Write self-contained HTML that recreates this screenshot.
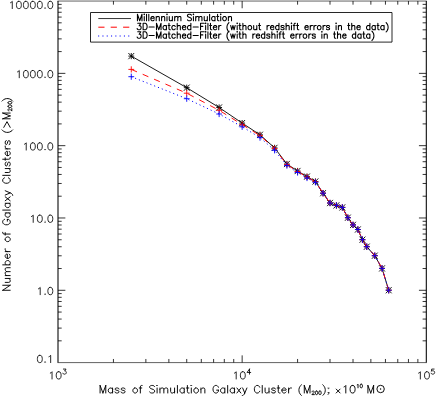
<!DOCTYPE html>
<html><head><meta charset="utf-8"><title>Number of Galaxy Clusters vs Mass</title>
<style>html,body{margin:0;padding:0;background:#fff;font-family:"Liberation Sans",sans-serif}svg{display:block}</style></head>
<body><svg width="436" height="396" viewBox="0 0 436 396">
<desc>Log-log plot: Number of Galaxy Clusters (&gt;M200) versus Mass of Simulation Galaxy Cluster (M200); x10^10 solar masses. Series: Millennium Simulation (black solid, asterisks); 3D-Matched-Filter without redshift errors in the data (red dashed, plus signs); 3D-Matched-Filter with redshift errors in the data (blue dotted, plus signs).</desc>
<rect width="436" height="396" fill="#fff"/>
<path d="M57.5 1.05H426.8M57.5 362.6H426.8" fill="none" stroke="#000" stroke-width="0.62"/>
<path d="M58 1.05V362.6M426.3 1.05V362.6" fill="none" stroke="#000" stroke-width="1.05"/>
<path d="M113.43 362.6v-3.62M113.43 1.05v3.62M145.86 362.6v-3.62M145.86 1.05v3.62M168.87 362.6v-3.62M168.87 1.05v3.62M186.72 362.6v-3.62M186.72 1.05v3.62M201.3 362.6v-3.62M201.3 1.05v3.62M213.62 362.6v-3.62M213.62 1.05v3.62M224.3 362.6v-3.62M224.3 1.05v3.62M233.72 362.6v-3.62M233.72 1.05v3.62M242.15 362.6v-7.23M242.15 1.05v7.23M297.58 362.6v-3.62M297.58 1.05v3.62M330.01 362.6v-3.62M330.01 1.05v3.62M353.02 362.6v-3.62M353.02 1.05v3.62M370.87 362.6v-3.62M370.87 1.05v3.62M385.45 362.6v-3.62M385.45 1.05v3.62M397.77 362.6v-3.62M397.77 1.05v3.62M408.45 362.6v-3.62M408.45 1.05v3.62M417.87 362.6v-3.62M417.87 1.05v3.62M58 340.83h3.68M426.3 340.83h-3.68M58 328.1h3.68M426.3 328.1h-3.68M58 319.07h3.68M426.3 319.07h-3.68M58 312.06h3.68M426.3 312.06h-3.68M58 306.33h3.68M426.3 306.33h-3.68M58 301.49h3.68M426.3 301.49h-3.68M58 297.3h3.68M426.3 297.3h-3.68M58 293.6h3.68M426.3 293.6h-3.68M58 290.29h7.37M426.3 290.29h-7.37M58 268.52h3.68M426.3 268.52h-3.68M58 255.79h3.68M426.3 255.79h-3.68M58 246.76h3.68M426.3 246.76h-3.68M58 239.75h3.68M426.3 239.75h-3.68M58 234.02h3.68M426.3 234.02h-3.68M58 229.18h3.68M426.3 229.18h-3.68M58 224.99h3.68M426.3 224.99h-3.68M58 221.29h3.68M426.3 221.29h-3.68M58 217.98h7.37M426.3 217.98h-7.37M58 196.21h3.68M426.3 196.21h-3.68M58 183.48h3.68M426.3 183.48h-3.68M58 174.45h3.68M426.3 174.45h-3.68M58 167.44h3.68M426.3 167.44h-3.68M58 161.71h3.68M426.3 161.71h-3.68M58 156.87h3.68M426.3 156.87h-3.68M58 152.68h3.68M426.3 152.68h-3.68M58 148.98h3.68M426.3 148.98h-3.68M58 145.67h7.37M426.3 145.67h-7.37M58 123.9h3.68M426.3 123.9h-3.68M58 111.17h3.68M426.3 111.17h-3.68M58 102.14h3.68M426.3 102.14h-3.68M58 95.13h3.68M426.3 95.13h-3.68M58 89.4h3.68M426.3 89.4h-3.68M58 84.56h3.68M426.3 84.56h-3.68M58 80.37h3.68M426.3 80.37h-3.68M58 76.67h3.68M426.3 76.67h-3.68M58 73.36h7.37M426.3 73.36h-7.37M58 51.59h3.68M426.3 51.59h-3.68M58 38.86h3.68M426.3 38.86h-3.68M58 29.83h3.68M426.3 29.83h-3.68M58 22.82h3.68M426.3 22.82h-3.68M58 17.09h3.68M426.3 17.09h-3.68M58 12.25h3.68M426.3 12.25h-3.68M58 8.06h3.68M426.3 8.06h-3.68M58 4.36h3.68M426.3 4.36h-3.68" fill="none" stroke="#000" stroke-width="0.8"/>
<path role="img" aria-label="10000.0" d="M10.52 2.72L11.22 2.37L12.27 1.33L12.27 8.6M18.55 1.33L17.5 1.68L16.81 2.72L16.46 4.45L16.46 5.49L16.81 7.22L17.5 8.25L18.55 8.6L19.25 8.6L20.3 8.25L20.99 7.22L21.34 5.49L21.34 4.45L20.99 2.72L20.3 1.68L19.25 1.33L18.55 1.33M25.53 1.33L24.48 1.68L23.79 2.72L23.44 4.45L23.44 5.49L23.79 7.22L24.48 8.25L25.53 8.6L26.23 8.6L27.28 8.25L27.97 7.22L28.32 5.49L28.32 4.45L27.97 2.72L27.28 1.68L26.23 1.33L25.53 1.33M32.51 1.33L31.46 1.68L30.77 2.72L30.42 4.45L30.42 5.49L30.77 7.22L31.46 8.25L32.51 8.6L33.21 8.6L34.26 8.25L34.95 7.22L35.3 5.49L35.3 4.45L34.95 2.72L34.26 1.68L33.21 1.33L32.51 1.33M39.49 1.33L38.44 1.68L37.75 2.72L37.4 4.45L37.4 5.49L37.75 7.22L38.44 8.25L39.49 8.6L40.19 8.6L41.24 8.25L41.93 7.22L42.28 5.49L42.28 4.45L41.93 2.72L41.24 1.68L40.19 1.33L39.49 1.33M45.07 7.91L44.73 8.25L45.07 8.6L45.42 8.25L45.07 7.91M49.96 1.33L48.91 1.68L48.22 2.72L47.87 4.45L47.87 5.49L48.22 7.22L48.91 8.25L49.96 8.6L50.66 8.6L51.71 8.25L52.4 7.22L52.75 5.49L52.75 4.45L52.4 2.72L51.71 1.68L50.66 1.33L49.96 1.33" fill="none" stroke="#000" stroke-width="0.85" stroke-linecap="round" stroke-linejoin="round"><title>10000.0</title></path>
<path role="img" aria-label="1000.0" d="M17.5 71.88L18.2 71.53L19.25 70.49L19.25 77.76M25.53 70.49L24.48 70.84L23.79 71.88L23.44 73.61L23.44 74.65L23.79 76.38L24.48 77.41L25.53 77.76L26.23 77.76L27.28 77.41L27.97 76.38L28.32 74.65L28.32 73.61L27.97 71.88L27.28 70.84L26.23 70.49L25.53 70.49M32.51 70.49L31.46 70.84L30.77 71.88L30.42 73.61L30.42 74.65L30.77 76.38L31.46 77.41L32.51 77.76L33.21 77.76L34.26 77.41L34.95 76.38L35.3 74.65L35.3 73.61L34.95 71.88L34.26 70.84L33.21 70.49L32.51 70.49M39.49 70.49L38.44 70.84L37.75 71.88L37.4 73.61L37.4 74.65L37.75 76.38L38.44 77.41L39.49 77.76L40.19 77.76L41.24 77.41L41.93 76.38L42.28 74.65L42.28 73.61L41.93 71.88L41.24 70.84L40.19 70.49L39.49 70.49M45.07 77.07L44.73 77.41L45.07 77.76L45.42 77.41L45.07 77.07M49.96 70.49L48.91 70.84L48.22 71.88L47.87 73.61L47.87 74.65L48.22 76.38L48.91 77.41L49.96 77.76L50.66 77.76L51.71 77.41L52.4 76.38L52.75 74.65L52.75 73.61L52.4 71.88L51.71 70.84L50.66 70.49L49.96 70.49" fill="none" stroke="#000" stroke-width="0.85" stroke-linecap="round" stroke-linejoin="round"><title>1000.0</title></path>
<path role="img" aria-label="100.0" d="M24.48 144.19L25.18 143.84L26.23 142.8L26.23 150.07M32.51 142.8L31.46 143.15L30.77 144.19L30.42 145.92L30.42 146.96L30.77 148.69L31.46 149.72L32.51 150.07L33.21 150.07L34.26 149.72L34.95 148.69L35.3 146.96L35.3 145.92L34.95 144.19L34.26 143.15L33.21 142.8L32.51 142.8M39.49 142.8L38.44 143.15L37.75 144.19L37.4 145.92L37.4 146.96L37.75 148.69L38.44 149.72L39.49 150.07L40.19 150.07L41.24 149.72L41.93 148.69L42.28 146.96L42.28 145.92L41.93 144.19L41.24 143.15L40.19 142.8L39.49 142.8M45.07 149.38L44.73 149.72L45.07 150.07L45.42 149.72L45.07 149.38M49.96 142.8L48.91 143.15L48.22 144.19L47.87 145.92L47.87 146.96L48.22 148.69L48.91 149.72L49.96 150.07L50.66 150.07L51.71 149.72L52.4 148.69L52.75 146.96L52.75 145.92L52.4 144.19L51.71 143.15L50.66 142.8L49.96 142.8" fill="none" stroke="#000" stroke-width="0.85" stroke-linecap="round" stroke-linejoin="round"><title>100.0</title></path>
<path role="img" aria-label="10.0" d="M31.46 216.5L32.16 216.15L33.21 215.11L33.21 222.38M39.49 215.11L38.44 215.46L37.75 216.5L37.4 218.23L37.4 219.27L37.75 221L38.44 222.03L39.49 222.38L40.19 222.38L41.24 222.03L41.93 221L42.28 219.27L42.28 218.23L41.93 216.5L41.24 215.46L40.19 215.11L39.49 215.11M45.07 221.69L44.73 222.03L45.07 222.38L45.42 222.03L45.07 221.69M49.96 215.11L48.91 215.46L48.22 216.5L47.87 218.23L47.87 219.27L48.22 221L48.91 222.03L49.96 222.38L50.66 222.38L51.71 222.03L52.4 221L52.75 219.27L52.75 218.23L52.4 216.5L51.71 215.46L50.66 215.11L49.96 215.11" fill="none" stroke="#000" stroke-width="0.85" stroke-linecap="round" stroke-linejoin="round"><title>10.0</title></path>
<path role="img" aria-label="1.0" d="M38.44 288.81L39.14 288.46L40.19 287.42L40.19 294.69M45.07 294L44.73 294.34L45.07 294.69L45.42 294.34L45.07 294M49.96 287.42L48.91 287.77L48.22 288.81L47.87 290.54L47.87 291.58L48.22 293.31L48.91 294.34L49.96 294.69L50.66 294.69L51.71 294.34L52.4 293.31L52.75 291.58L52.75 290.54L52.4 288.81L51.71 287.77L50.66 287.42L49.96 287.42" fill="none" stroke="#000" stroke-width="0.85" stroke-linecap="round" stroke-linejoin="round"><title>1.0</title></path>
<path role="img" aria-label="0.1" d="M39.49 355.33L38.44 355.68L37.75 356.72L37.4 358.45L37.4 359.49L37.75 361.22L38.44 362.25L39.49 362.6L40.19 362.6L41.24 362.25L41.93 361.22L42.28 359.49L42.28 358.45L41.93 356.72L41.24 355.68L40.19 355.33L39.49 355.33M45.07 361.91L44.73 362.25L45.07 362.6L45.42 362.25L45.07 361.91M48.91 356.72L49.61 356.37L50.66 355.33L50.66 362.6" fill="none" stroke="#000" stroke-width="0.85" stroke-linecap="round" stroke-linejoin="round"><title>0.1</title></path>
<path role="img" aria-label="10^3" d="M50.29 373.12L50.99 372.77L52.04 371.73L52.04 379M58.32 371.73L57.27 372.08L56.58 373.12L56.23 374.85L56.23 375.89L56.58 377.62L57.27 378.65L58.32 379L59.02 379L60.07 378.65L60.76 377.62L61.11 375.89L61.11 374.85L60.76 373.12L60.07 372.08L59.02 371.73L58.32 371.73M63.38 369.07L66.07 369.07L64.6 371.01L65.34 371.01L65.82 371.25L66.07 371.49L66.31 372.22L66.31 372.7L66.07 373.43L65.58 373.91L64.85 374.16L64.11 374.16L63.38 373.91L63.14 373.67L62.89 373.19" fill="none" stroke="#000" stroke-width="0.85" stroke-linecap="round" stroke-linejoin="round"><title>10^3</title></path>
<path role="img" aria-label="10^4" d="M234.44 373.12L235.14 372.77L236.19 371.73L236.19 379M242.47 371.73L241.42 372.08L240.73 373.12L240.38 374.85L240.38 375.89L240.73 377.62L241.42 378.65L242.47 379L243.17 379L244.22 378.65L244.91 377.62L245.26 375.89L245.26 374.85L244.91 373.12L244.22 372.08L243.17 371.73L242.47 371.73M249.49 369.07L247.04 372.46L250.71 372.46M249.49 369.07L249.49 374.16" fill="none" stroke="#000" stroke-width="0.85" stroke-linecap="round" stroke-linejoin="round"><title>10^4</title></path>
<path role="img" aria-label="10^5" d="M418.59 373.12L419.29 372.77L420.34 371.73L420.34 379M426.62 371.73L425.57 372.08L424.88 373.12L424.53 374.85L424.53 375.89L424.88 377.62L425.57 378.65L426.62 379L427.32 379L428.37 378.65L429.06 377.62L429.41 375.89L429.41 374.85L429.06 373.12L428.37 372.08L427.32 371.73L426.62 371.73M434.12 369.07L431.68 369.07L431.44 371.25L431.68 371.01L432.41 370.77L433.15 370.77L433.88 371.01L434.37 371.49L434.61 372.22L434.61 372.7L434.37 373.43L433.88 373.91L433.15 374.16L432.41 374.16L431.68 373.91L431.44 373.67L431.19 373.19" fill="none" stroke="#000" stroke-width="0.85" stroke-linecap="round" stroke-linejoin="round"><title>10^5</title></path>
<path role="img" aria-label="Mass of Simulation Galaxy Cluster (M200); x10^10 M⊙" d="M100.08 385.48L100.08 393M100.08 385.48L102.93 393M105.78 385.48L102.93 393M105.78 385.48L105.78 393M112.55 387.99L112.55 393M112.55 389.06L111.84 388.35L111.12 387.99L110.05 387.99L109.34 388.35L108.63 389.06L108.27 390.14L108.27 390.85L108.63 391.93L109.34 392.64L110.05 393L111.12 393L111.84 392.64L112.55 391.93M118.96 389.06L118.61 388.35L117.54 387.99L116.47 387.99L115.4 388.35L115.04 389.06L115.4 389.78L116.11 390.14L117.9 390.49L118.61 390.85L118.96 391.57L118.96 391.93L118.61 392.64L117.54 393L116.47 393L115.4 392.64L115.04 391.93M125.02 389.06L124.67 388.35L123.6 387.99L122.53 387.99L121.46 388.35L121.1 389.06L121.46 389.78L122.17 390.14L123.95 390.49L124.67 390.85L125.02 391.57L125.02 391.93L124.67 392.64L123.6 393L122.53 393L121.46 392.64L121.1 391.93M134.65 387.99L133.93 388.35L133.22 389.06L132.86 390.14L132.86 390.85L133.22 391.93L133.93 392.64L134.65 393L135.72 393L136.43 392.64L137.14 391.93L137.5 390.85L137.5 390.14L137.14 389.06L136.43 388.35L135.72 387.99L134.65 387.99M142.13 385.48L141.42 385.48L140.71 385.84L140.35 386.91L140.35 393M139.28 387.99L141.77 387.99M154.6 386.56L153.89 385.84L152.82 385.48L151.4 385.48L150.33 385.84L149.62 386.56L149.62 387.27L149.97 387.99L150.33 388.35L151.04 388.7L153.18 389.42L153.89 389.78L154.25 390.14L154.6 390.85L154.6 391.93L153.89 392.64L152.82 393L151.4 393L150.33 392.64L149.62 391.93M156.74 385.48L157.1 385.84L157.46 385.48L157.1 385.12L156.74 385.48M157.1 387.99L157.1 393M159.95 387.99L159.95 393M159.95 389.42L161.02 388.35L161.73 387.99L162.8 387.99L163.51 388.35L163.87 389.42L163.87 393M163.87 389.42L164.94 388.35L165.65 387.99L166.72 387.99L167.44 388.35L167.79 389.42L167.79 393M170.64 387.99L170.64 391.57L171 392.64L171.71 393L172.78 393L173.49 392.64L174.56 391.57M174.56 387.99L174.56 393M177.41 385.48L177.41 393M184.19 387.99L184.19 393M184.19 389.06L183.47 388.35L182.76 387.99L181.69 387.99L180.98 388.35L180.27 389.06L179.91 390.14L179.91 390.85L180.27 391.93L180.98 392.64L181.69 393L182.76 393L183.47 392.64L184.19 391.93M187.39 385.48L187.39 391.57L187.75 392.64L188.46 393L189.18 393M186.32 387.99L188.82 387.99M190.96 385.48L191.31 385.84L191.67 385.48L191.31 385.12L190.96 385.48M191.31 387.99L191.31 393M195.59 387.99L194.88 388.35L194.17 389.06L193.81 390.14L193.81 390.85L194.17 391.93L194.88 392.64L195.59 393L196.66 393L197.37 392.64L198.09 391.93L198.44 390.85L198.44 390.14L198.09 389.06L197.37 388.35L196.66 387.99L195.59 387.99M200.94 387.99L200.94 393M200.94 389.42L202.01 388.35L202.72 387.99L203.79 387.99L204.5 388.35L204.86 389.42L204.86 393M218.4 387.27L218.04 386.56L217.33 385.84L216.62 385.48L215.19 385.48L214.48 385.84L213.77 386.56L213.41 387.27L213.05 388.35L213.05 390.14L213.41 391.21L213.77 391.93L214.48 392.64L215.19 393L216.62 393L217.33 392.64L218.04 391.93L218.4 391.21L218.4 390.14M216.62 390.14L218.4 390.14M224.82 387.99L224.82 393M224.82 389.06L224.1 388.35L223.39 387.99L222.32 387.99L221.61 388.35L220.9 389.06L220.54 390.14L220.54 390.85L220.9 391.93L221.61 392.64L222.32 393L223.39 393L224.1 392.64L224.82 391.93M227.67 385.48L227.67 393M234.44 387.99L234.44 393M234.44 389.06L233.73 388.35L233.01 387.99L231.94 387.99L231.23 388.35L230.52 389.06L230.16 390.14L230.16 390.85L230.52 391.93L231.23 392.64L231.94 393L233.01 393L233.73 392.64L234.44 391.93M236.93 387.99L240.85 393M240.85 387.99L236.93 393M242.64 387.99L244.77 393M246.91 387.99L244.77 393L244.06 394.43L243.35 395.15L242.64 395.51L242.28 395.51M259.74 387.27L259.39 386.56L258.67 385.84L257.96 385.48L256.54 385.48L255.82 385.84L255.11 386.56L254.75 387.27L254.4 388.35L254.4 390.14L254.75 391.21L255.11 391.93L255.82 392.64L256.54 393L257.96 393L258.67 392.64L259.39 391.93L259.74 391.21M262.24 385.48L262.24 393M265.09 387.99L265.09 391.57L265.45 392.64L266.16 393L267.23 393L267.94 392.64L269.01 391.57M269.01 387.99L269.01 393M275.42 389.06L275.07 388.35L274 387.99L272.93 387.99L271.86 388.35L271.5 389.06L271.86 389.78L272.57 390.14L274.36 390.49L275.07 390.85L275.42 391.57L275.42 391.93L275.07 392.64L274 393L272.93 393L271.86 392.64L271.5 391.93M278.28 385.48L278.28 391.57L278.63 392.64L279.34 393L280.06 393M277.21 387.99L279.7 387.99M281.84 390.14L286.12 390.14L286.12 389.42L285.76 388.7L285.4 388.35L284.69 387.99L283.62 387.99L282.91 388.35L282.2 389.06L281.84 390.14L281.84 390.85L282.2 391.93L282.91 392.64L283.62 393L284.69 393L285.4 392.64L286.12 391.93M288.61 387.99L288.61 393M288.61 390.14L288.97 389.06L289.68 388.35L290.39 387.99L291.46 387.99M301.44 384.77L300.73 385.44L300.02 386.44L299.3 387.79L298.95 389.46L298.95 390.81L299.3 392.49L300.02 393.83L300.73 394.83L301.44 395.51M304.29 385.48L304.29 393M304.29 385.48L307.14 393M310 385.48L307.14 393M310 385.48L310 393M312.11 391.86L312.11 391.69L312.28 391.35L312.45 391.17L312.79 391L313.47 391L313.82 391.17L313.99 391.35L314.16 391.69L314.16 392.03L313.99 392.38L313.64 392.89L311.93 394.61L314.33 394.61M316.38 391L315.87 391.17L315.53 391.69L315.36 392.55L315.36 393.06L315.53 393.92L315.87 394.44L316.38 394.61L316.72 394.61L317.24 394.44L317.58 393.92L317.75 393.06L317.75 392.55L317.58 391.69L317.24 391.17L316.72 391L316.38 391M319.8 391L319.29 391.17L318.95 391.69L318.78 392.55L318.78 393.06L318.95 393.92L319.29 394.44L319.8 394.61L320.15 394.61L320.66 394.44L321 393.92L321.17 393.06L321.17 392.55L321 391.69L320.66 391.17L320.15 391L319.8 391M322.75 384.77L323.47 385.44L324.18 386.44L324.89 387.79L325.25 389.46L325.25 390.81L324.89 392.49L324.18 393.83L323.47 394.83L322.75 395.51M328.46 387.99L328.1 388.35L328.46 388.7L328.81 388.35L328.46 387.99M328.81 392.64L328.46 393L328.1 392.64L328.46 392.28L328.81 392.64L328.81 393.36L328.46 394.07L328.1 394.43M336.19 389.06L340.11 393M336.19 393L340.11 389.06M344.03 386.91L344.74 386.56L345.81 385.48L345.81 393M352.23 385.48L351.16 385.84L350.45 386.91L350.09 388.7L350.09 389.78L350.45 391.57L351.16 392.64L352.23 393L352.94 393L354.01 392.64L354.72 391.57L355.08 389.78L355.08 388.7L354.72 386.91L354.01 385.84L352.94 385.48L352.23 385.48M357.18 384.89L357.52 384.72L358.03 384.2L358.03 387.81M361.11 384.2L360.6 384.37L360.25 384.89L360.08 385.75L360.08 386.26L360.25 387.12L360.6 387.64L361.11 387.81L361.45 387.81L361.97 387.64L362.31 387.12L362.48 386.26L362.48 385.75L362.31 384.89L361.97 384.37L361.45 384.2L361.11 384.2M367.91 385.48L367.91 393M367.91 385.48L370.76 393M373.61 385.48L370.76 393M373.61 385.48L373.61 393" fill="none" stroke="#000" stroke-width="0.95" stroke-linecap="round" stroke-linejoin="round"><title>Mass of Simulation Galaxy Cluster (M200); x10^10 M⊙</title></path>
<path role="img" aria-label="Number of Galaxy Clusters (&gt;M200)" d="M2.72 290.27L10.2 290.27M2.72 290.27L10.2 285.26M2.72 285.26L10.2 285.26M5.21 282.39L8.77 282.39L9.84 282.03L10.2 281.32L10.2 280.24L9.84 279.53L8.77 278.45M5.21 278.45L10.2 278.45M5.21 275.59L10.2 275.59M6.64 275.59L5.57 274.52L5.21 273.8L5.21 272.73L5.57 272.01L6.64 271.65L10.2 271.65M6.64 271.65L5.57 270.58L5.21 269.86L5.21 268.79L5.57 268.07L6.64 267.71L10.2 267.71M2.72 264.85L10.2 264.85M6.28 264.85L5.57 264.13L5.21 263.42L5.21 262.34L5.57 261.63L6.28 260.91L7.35 260.55L8.06 260.55L9.13 260.91L9.84 261.63L10.2 262.34L10.2 263.42L9.84 264.13L9.13 264.85M7.35 258.41L7.35 254.11L6.64 254.11L5.92 254.47L5.57 254.83L5.21 255.54L5.21 256.62L5.57 257.33L6.28 258.05L7.35 258.41L8.06 258.41L9.13 258.05L9.84 257.33L10.2 256.62L10.2 255.54L9.84 254.83L9.13 254.11M5.21 251.6L10.2 251.6M7.35 251.6L6.28 251.25L5.57 250.53L5.21 249.81L5.21 248.74M5.21 239.79L5.57 240.51L6.28 241.22L7.35 241.58L8.06 241.58L9.13 241.22L9.84 240.51L10.2 239.79L10.2 238.72L9.84 238L9.13 237.28L8.06 236.93L7.35 236.93L6.28 237.28L5.57 238L5.21 238.72L5.21 239.79M2.72 232.27L2.72 232.99L3.07 233.7L4.14 234.06L10.2 234.06M5.21 235.14L5.21 232.63M4.5 219.38L3.78 219.74L3.07 220.46L2.72 221.17L2.72 222.61L3.07 223.32L3.78 224.04L4.5 224.4L5.57 224.75L7.35 224.75L8.42 224.4L9.13 224.04L9.84 223.32L10.2 222.61L10.2 221.17L9.84 220.46L9.13 219.74L8.42 219.38L7.35 219.38M7.35 221.17L7.35 219.38M5.21 212.94L10.2 212.94M6.28 212.94L5.57 213.66L5.21 214.37L5.21 215.45L5.57 216.16L6.28 216.88L7.35 217.24L8.06 217.24L9.13 216.88L9.84 216.16L10.2 215.45L10.2 214.37L9.84 213.66L9.13 212.94M2.72 210.08L10.2 210.08M5.21 203.27L10.2 203.27M6.28 203.27L5.57 203.99L5.21 204.71L5.21 205.78L5.57 206.5L6.28 207.21L7.35 207.57L8.06 207.57L9.13 207.21L9.84 206.5L10.2 205.78L10.2 204.71L9.84 203.99L9.13 203.27M5.21 200.77L10.2 196.83M5.21 196.83L10.2 200.77M5.21 195.04L10.2 192.89M5.21 190.74L10.2 192.89L11.63 193.61L12.34 194.32L12.69 195.04L12.69 195.4M4.5 177.86L3.78 178.21L3.07 178.93L2.72 179.65L2.72 181.08L3.07 181.79L3.78 182.51L4.5 182.87L5.57 183.23L7.35 183.23L8.42 182.87L9.13 182.51L9.84 181.79L10.2 181.08L10.2 179.65L9.84 178.93L9.13 178.21L8.42 177.86M2.72 175.35L10.2 175.35M5.21 172.49L8.77 172.49L9.84 172.13L10.2 171.41L10.2 170.34L9.84 169.62L8.77 168.55M5.21 168.55L10.2 168.55M6.28 162.1L5.57 162.46L5.21 163.54L5.21 164.61L5.57 165.68L6.28 166.04L6.99 165.68L7.35 164.97L7.71 163.18L8.06 162.46L8.77 162.1L9.13 162.1L9.84 162.46L10.2 163.54L10.2 164.61L9.84 165.68L9.13 166.04M2.72 159.24L8.77 159.24L9.84 158.88L10.2 158.17L10.2 157.45M5.21 160.31L5.21 157.81M7.35 155.66L7.35 151.36L6.64 151.36L5.92 151.72L5.57 152.08L5.21 152.8L5.21 153.87L5.57 154.59L6.28 155.3L7.35 155.66L8.06 155.66L9.13 155.3L9.84 154.59L10.2 153.87L10.2 152.8L9.84 152.08L9.13 151.36M5.21 148.86L10.2 148.86M7.35 148.86L6.28 148.5L5.57 147.78L5.21 147.07L5.21 145.99M6.28 140.62L5.57 140.98L5.21 142.06L5.21 143.13L5.57 144.2L6.28 144.56L6.99 144.2L7.35 143.49L7.71 141.7L8.06 140.98L8.77 140.62L9.13 140.62L9.84 140.98L10.2 142.06L10.2 143.13L9.84 144.2L9.13 144.56M2 129.88L2.67 130.6L3.67 131.32L5.01 132.03L6.68 132.39L8.02 132.39L9.69 132.03L11.02 131.32L12.03 130.6L12.69 129.88M3.78 127.38L6.99 121.65L10.2 127.38M2.72 118.79L10.2 118.79M2.72 118.79L10.2 115.92M2.72 113.06L10.2 115.92M2.72 113.06L10.2 113.06M8.95 110.91L8.77 110.91L8.42 110.73L8.24 110.55L8.06 110.19L8.06 109.48L8.24 109.12L8.42 108.94L8.77 108.76L9.13 108.76L9.49 108.94L10.02 109.3L11.8 111.09L11.8 108.58M8.06 106.44L8.24 106.97L8.77 107.33L9.67 107.51L10.2 107.51L11.09 107.33L11.63 106.97L11.8 106.44L11.8 106.08L11.63 105.54L11.09 105.18L10.2 105L9.67 105L8.77 105.18L8.24 105.54L8.06 106.08L8.06 106.44M8.06 102.85L8.24 103.39L8.77 103.75L9.67 103.93L10.2 103.93L11.09 103.75L11.63 103.39L11.8 102.85L11.8 102.5L11.63 101.96L11.09 101.6L10.2 101.42L9.67 101.42L8.77 101.6L8.24 101.96L8.06 102.5L8.06 102.85M2 101.1L2.67 100.38L3.67 99.67L5.01 98.95L6.68 98.59L8.02 98.59L9.69 98.95L11.02 99.67L12.03 100.38L12.69 101.1" fill="none" stroke="#000" stroke-width="0.95" stroke-linecap="round" stroke-linejoin="round"><title>Number of Galaxy Clusters (&gt;M200)</title></path>
<circle cx="380.6" cy="389" r="3.7" fill="none" stroke="#000" stroke-width="0.95"/><circle cx="380.6" cy="389" r="0.7" fill="#000"/>
<path d="M90.5 12.5H392V42.1H90.5Z" fill="#fff" stroke="#000" stroke-width="0.85"/>
<path d="M98.3 18.55H131" stroke="#000" stroke-width="0.8"/>
<path d="M98.3 27.2H130.2" stroke="#f00" stroke-width="1.0" stroke-dasharray="6.2 6.2"/>
<path d="M98.1 36.0H130.2" stroke="#00f" stroke-width="1.0" stroke-dasharray="1.1 3.2"/>
<path role="img" aria-label="Millennium Simulation" d="M137.44 14.29L137.44 20.8M137.44 14.29L139.71 20.8M141.98 14.29L139.71 20.8M141.98 14.29L141.98 20.8M143.97 14.29L144.26 14.6L144.54 14.29L144.26 13.98L143.97 14.29M144.26 16.46L144.26 20.8M146.53 14.29L146.53 20.8M148.8 14.29L148.8 20.8M150.79 18.32L154.2 18.32L154.2 17.7L153.92 17.08L153.64 16.77L153.07 16.46L152.22 16.46L151.65 16.77L151.08 17.39L150.79 18.32L150.79 18.94L151.08 19.87L151.65 20.49L152.22 20.8L153.07 20.8L153.64 20.49L154.2 19.87M156.19 16.46L156.19 20.8M156.19 17.7L157.05 16.77L157.62 16.46L158.47 16.46L159.04 16.77L159.32 17.7L159.32 20.8M161.59 16.46L161.59 20.8M161.59 17.7L162.45 16.77L163.01 16.46L163.87 16.46L164.44 16.77L164.72 17.7L164.72 20.8M166.71 14.29L166.99 14.6L167.28 14.29L166.99 13.98L166.71 14.29M166.99 16.46L166.99 20.8M169.27 16.46L169.27 19.56L169.55 20.49L170.12 20.8L170.97 20.8L171.54 20.49L172.39 19.56M172.39 16.46L172.39 20.8M174.67 16.46L174.67 20.8M174.67 17.7L175.52 16.77L176.09 16.46L176.94 16.46L177.51 16.77L177.79 17.7L177.79 20.8M177.79 17.7L178.65 16.77L179.21 16.46L180.07 16.46L180.64 16.77L180.92 17.7L180.92 20.8M191.43 15.22L190.87 14.6L190.01 14.29L188.88 14.29L188.02 14.6L187.46 15.22L187.46 15.84L187.74 16.46L188.02 16.77L188.59 17.08L190.3 17.7L190.87 18.01L191.15 18.32L191.43 18.94L191.43 19.87L190.87 20.49L190.01 20.8L188.88 20.8L188.02 20.49L187.46 19.87M193.14 14.29L193.42 14.6L193.71 14.29L193.42 13.98L193.14 14.29M193.42 16.46L193.42 20.8M195.7 16.46L195.7 20.8M195.7 17.7L196.55 16.77L197.12 16.46L197.97 16.46L198.54 16.77L198.82 17.7L198.82 20.8M198.82 17.7L199.68 16.77L200.25 16.46L201.1 16.46L201.67 16.77L201.95 17.7L201.95 20.8M204.22 16.46L204.22 19.56L204.51 20.49L205.08 20.8L205.93 20.8L206.5 20.49L207.35 19.56M207.35 16.46L207.35 20.8M209.62 14.29L209.62 20.8M215.02 16.46L215.02 20.8M215.02 17.39L214.46 16.77L213.89 16.46L213.03 16.46L212.47 16.77L211.9 17.39L211.61 18.32L211.61 18.94L211.9 19.87L212.47 20.49L213.03 20.8L213.89 20.8L214.46 20.49L215.02 19.87M217.58 14.29L217.58 19.56L217.87 20.49L218.43 20.8L219 20.8M216.73 16.46L218.72 16.46M220.42 14.29L220.71 14.6L220.99 14.29L220.71 13.98L220.42 14.29M220.71 16.46L220.71 20.8M224.12 16.46L223.55 16.77L222.98 17.39L222.7 18.32L222.7 18.94L222.98 19.87L223.55 20.49L224.12 20.8L224.97 20.8L225.54 20.49L226.11 19.87L226.39 18.94L226.39 18.32L226.11 17.39L225.54 16.77L224.97 16.46L224.12 16.46M228.38 16.46L228.38 20.8M228.38 17.7L229.23 16.77L229.8 16.46L230.65 16.46L231.22 16.77L231.51 17.7L231.51 20.8" fill="none" stroke="#000" stroke-width="1.08" stroke-linecap="round" stroke-linejoin="round"><title>Millennium Simulation</title></path>
<path role="img" aria-label="3D-Matched-Filter (without redshift errors in the data)" d="M137.72 23.29L140.85 23.29L139.14 25.77L139.99 25.77L140.56 26.08L140.85 26.39L141.13 27.32L141.13 27.94L140.85 28.87L140.28 29.49L139.43 29.8L138.57 29.8L137.72 29.49L137.44 29.18L137.15 28.56M143.12 23.29L143.12 29.8M143.12 23.29L145.11 23.29L145.96 23.6L146.53 24.22L146.82 24.84L147.1 25.77L147.1 27.32L146.82 28.25L146.53 28.87L145.96 29.49L145.11 29.8L143.12 29.8M149.09 27.01L154.2 27.01M156.48 23.29L156.48 29.8M156.48 23.29L158.75 29.8M161.03 23.29L158.75 29.8M161.03 23.29L161.03 29.8M166.43 25.46L166.43 29.8M166.43 26.39L165.86 25.77L165.29 25.46L164.44 25.46L163.87 25.77L163.3 26.39L163.01 27.32L163.01 27.94L163.3 28.87L163.87 29.49L164.44 29.8L165.29 29.8L165.86 29.49L166.43 28.87M168.98 23.29L168.98 28.56L169.27 29.49L169.84 29.8L170.4 29.8M168.13 25.46L170.12 25.46M175.24 26.39L174.67 25.77L174.1 25.46L173.25 25.46L172.68 25.77L172.11 26.39L171.83 27.32L171.83 27.94L172.11 28.87L172.68 29.49L173.25 29.8L174.1 29.8L174.67 29.49L175.24 28.87M177.22 23.29L177.22 29.8M177.22 26.7L178.08 25.77L178.65 25.46L179.5 25.46L180.07 25.77L180.35 26.7L180.35 29.8M182.34 27.32L185.75 27.32L185.75 26.7L185.47 26.08L185.18 25.77L184.61 25.46L183.76 25.46L183.19 25.77L182.62 26.39L182.34 27.32L182.34 27.94L182.62 28.87L183.19 29.49L183.76 29.8L184.61 29.8L185.18 29.49L185.75 28.87M190.87 23.29L190.87 29.8M190.87 26.39L190.3 25.77L189.73 25.46L188.88 25.46L188.31 25.77L187.74 26.39L187.46 27.32L187.46 27.94L187.74 28.87L188.31 29.49L188.88 29.8L189.73 29.8L190.3 29.49L190.87 28.87M193.14 27.01L198.26 27.01M200.53 23.29L200.53 29.8M200.53 23.29L204.22 23.29M200.53 26.39L202.8 26.39M205.36 23.29L205.64 23.6L205.93 23.29L205.64 22.98L205.36 23.29M205.64 25.46L205.64 29.8M207.92 23.29L207.92 29.8M210.48 23.29L210.48 28.56L210.76 29.49L211.33 29.8L211.9 29.8M209.62 25.46L211.61 25.46M213.32 27.32L216.73 27.32L216.73 26.7L216.44 26.08L216.16 25.77L215.59 25.46L214.74 25.46L214.17 25.77L213.6 26.39L213.32 27.32L213.32 27.94L213.6 28.87L214.17 29.49L214.74 29.8L215.59 29.8L216.16 29.49L216.73 28.87M218.72 25.46L218.72 29.8M218.72 27.32L219 26.39L219.57 25.77L220.14 25.46L220.99 25.46M228.95 22.67L228.38 23.25L227.81 24.12L227.24 25.29L226.96 26.74L226.96 27.9L227.24 29.35L227.81 30.52L228.38 31.39L228.95 31.97M230.65 25.46L231.79 29.8M232.93 25.46L231.79 29.8M232.93 25.46L234.06 29.8M235.2 25.46L234.06 29.8M236.91 23.29L237.19 23.6L237.48 23.29L237.19 22.98L236.91 23.29M237.19 25.46L237.19 29.8M239.75 23.29L239.75 28.56L240.03 29.49L240.6 29.8L241.17 29.8M238.9 25.46L240.89 25.46M242.88 23.29L242.88 29.8M242.88 26.7L243.73 25.77L244.3 25.46L245.15 25.46L245.72 25.77L246 26.7L246 29.8M249.41 25.46L248.84 25.77L248.27 26.39L247.99 27.32L247.99 27.94L248.27 28.87L248.84 29.49L249.41 29.8L250.26 29.8L250.83 29.49L251.4 28.87L251.69 27.94L251.69 27.32L251.4 26.39L250.83 25.77L250.26 25.46L249.41 25.46M253.67 25.46L253.67 28.56L253.96 29.49L254.53 29.8L255.38 29.8L255.95 29.49L256.8 28.56M256.8 25.46L256.8 29.8M259.36 23.29L259.36 28.56L259.64 29.49L260.21 29.8L260.78 29.8M258.51 25.46L260.5 25.46M267.03 25.46L267.03 29.8M267.03 27.32L267.32 26.39L267.88 25.77L268.45 25.46L269.31 25.46M270.44 27.32L273.85 27.32L273.85 26.7L273.57 26.08L273.28 25.77L272.72 25.46L271.86 25.46L271.3 25.77L270.73 26.39L270.44 27.32L270.44 27.94L270.73 28.87L271.3 29.49L271.86 29.8L272.72 29.8L273.28 29.49L273.85 28.87M278.97 23.29L278.97 29.8M278.97 26.39L278.4 25.77L277.83 25.46L276.98 25.46L276.41 25.77L275.84 26.39L275.56 27.32L275.56 27.94L275.84 28.87L276.41 29.49L276.98 29.8L277.83 29.8L278.4 29.49L278.97 28.87M284.08 26.39L283.8 25.77L282.95 25.46L282.09 25.46L281.24 25.77L280.96 26.39L281.24 27.01L281.81 27.32L283.23 27.63L283.8 27.94L284.08 28.56L284.08 28.87L283.8 29.49L282.95 29.8L282.09 29.8L281.24 29.49L280.96 28.87M286.07 23.29L286.07 29.8M286.07 26.7L286.93 25.77L287.49 25.46L288.35 25.46L288.92 25.77L289.2 26.7L289.2 29.8M291.19 23.29L291.47 23.6L291.76 23.29L291.47 22.98L291.19 23.29M291.47 25.46L291.47 29.8M295.45 23.29L294.88 23.29L294.32 23.6L294.03 24.53L294.03 29.8M293.18 25.46L295.17 25.46M297.44 23.29L297.44 28.56L297.73 29.49L298.29 29.8L298.86 29.8M296.59 25.46L298.58 25.46M304.83 27.32L308.24 27.32L308.24 26.7L307.96 26.08L307.67 25.77L307.1 25.46L306.25 25.46L305.68 25.77L305.11 26.39L304.83 27.32L304.83 27.94L305.11 28.87L305.68 29.49L306.25 29.8L307.1 29.8L307.67 29.49L308.24 28.87M310.23 25.46L310.23 29.8M310.23 27.32L310.51 26.39L311.08 25.77L311.65 25.46L312.5 25.46M313.93 25.46L313.93 29.8M313.93 27.32L314.21 26.39L314.78 25.77L315.35 25.46L316.2 25.46M318.76 25.46L318.19 25.77L317.62 26.39L317.34 27.32L317.34 27.94L317.62 28.87L318.19 29.49L318.76 29.8L319.61 29.8L320.18 29.49L320.75 28.87L321.03 27.94L321.03 27.32L320.75 26.39L320.18 25.77L319.61 25.46L318.76 25.46M323.02 25.46L323.02 29.8M323.02 27.32L323.3 26.39L323.87 25.77L324.44 25.46L325.29 25.46M329.56 26.39L329.27 25.77L328.42 25.46L327.57 25.46L326.71 25.77L326.43 26.39L326.71 27.01L327.28 27.32L328.7 27.63L329.27 27.94L329.56 28.56L329.56 28.87L329.27 29.49L328.42 29.8L327.57 29.8L326.71 29.49L326.43 28.87M335.81 23.29L336.09 23.6L336.38 23.29L336.09 22.98L335.81 23.29M336.09 25.46L336.09 29.8M338.37 25.46L338.37 29.8M338.37 26.7L339.22 25.77L339.79 25.46L340.64 25.46L341.21 25.77L341.49 26.7L341.49 29.8M348.6 23.29L348.6 28.56L348.88 29.49L349.45 29.8L350.02 29.8M347.74 25.46L349.73 25.46M351.72 23.29L351.72 29.8M351.72 26.7L352.58 25.77L353.14 25.46L354 25.46L354.57 25.77L354.85 26.7L354.85 29.8M356.84 27.32L360.25 27.32L360.25 26.7L359.97 26.08L359.68 25.77L359.11 25.46L358.26 25.46L357.69 25.77L357.12 26.39L356.84 27.32L356.84 27.94L357.12 28.87L357.69 29.49L358.26 29.8L359.11 29.8L359.68 29.49L360.25 28.87M369.91 23.29L369.91 29.8M369.91 26.39L369.34 25.77L368.78 25.46L367.92 25.46L367.35 25.77L366.79 26.39L366.5 27.32L366.5 27.94L366.79 28.87L367.35 29.49L367.92 29.8L368.78 29.8L369.34 29.49L369.91 28.87M375.31 25.46L375.31 29.8M375.31 26.39L374.74 25.77L374.18 25.46L373.32 25.46L372.75 25.77L372.19 26.39L371.9 27.32L371.9 27.94L372.19 28.87L372.75 29.49L373.32 29.8L374.18 29.8L374.74 29.49L375.31 28.87M377.87 23.29L377.87 28.56L378.15 29.49L378.72 29.8L379.29 29.8M377.02 25.46L379.01 25.46M384.12 25.46L384.12 29.8M384.12 26.39L383.55 25.77L382.99 25.46L382.13 25.46L381.56 25.77L381 26.39L380.71 27.32L380.71 27.94L381 28.87L381.56 29.49L382.13 29.8L382.99 29.8L383.55 29.49L384.12 28.87M386.11 22.67L386.68 23.25L387.25 24.12L387.82 25.29L388.1 26.74L388.1 27.9L387.82 29.35L387.25 30.52L386.68 31.39L386.11 31.97" fill="none" stroke="#000" stroke-width="1.08" stroke-linecap="round" stroke-linejoin="round"><title>3D-Matched-Filter (without redshift errors in the data)</title></path>
<path role="img" aria-label="3D-Matched-Filter (with redshift errors in the data)" d="M137.72 31.79L140.85 31.79L139.14 34.27L139.99 34.27L140.56 34.58L140.85 34.89L141.13 35.82L141.13 36.44L140.85 37.37L140.28 37.99L139.43 38.3L138.57 38.3L137.72 37.99L137.44 37.68L137.15 37.06M143.12 31.79L143.12 38.3M143.12 31.79L145.11 31.79L145.96 32.1L146.53 32.72L146.82 33.34L147.1 34.27L147.1 35.82L146.82 36.75L146.53 37.37L145.96 37.99L145.11 38.3L143.12 38.3M149.09 35.51L154.2 35.51M156.48 31.79L156.48 38.3M156.48 31.79L158.75 38.3M161.03 31.79L158.75 38.3M161.03 31.79L161.03 38.3M166.43 33.96L166.43 38.3M166.43 34.89L165.86 34.27L165.29 33.96L164.44 33.96L163.87 34.27L163.3 34.89L163.01 35.82L163.01 36.44L163.3 37.37L163.87 37.99L164.44 38.3L165.29 38.3L165.86 37.99L166.43 37.37M168.98 31.79L168.98 37.06L169.27 37.99L169.84 38.3L170.4 38.3M168.13 33.96L170.12 33.96M175.24 34.89L174.67 34.27L174.1 33.96L173.25 33.96L172.68 34.27L172.11 34.89L171.83 35.82L171.83 36.44L172.11 37.37L172.68 37.99L173.25 38.3L174.1 38.3L174.67 37.99L175.24 37.37M177.22 31.79L177.22 38.3M177.22 35.2L178.08 34.27L178.65 33.96L179.5 33.96L180.07 34.27L180.35 35.2L180.35 38.3M182.34 35.82L185.75 35.82L185.75 35.2L185.47 34.58L185.18 34.27L184.61 33.96L183.76 33.96L183.19 34.27L182.62 34.89L182.34 35.82L182.34 36.44L182.62 37.37L183.19 37.99L183.76 38.3L184.61 38.3L185.18 37.99L185.75 37.37M190.87 31.79L190.87 38.3M190.87 34.89L190.3 34.27L189.73 33.96L188.88 33.96L188.31 34.27L187.74 34.89L187.46 35.82L187.46 36.44L187.74 37.37L188.31 37.99L188.88 38.3L189.73 38.3L190.3 37.99L190.87 37.37M193.14 35.51L198.26 35.51M200.53 31.79L200.53 38.3M200.53 31.79L204.22 31.79M200.53 34.89L202.8 34.89M205.36 31.79L205.64 32.1L205.93 31.79L205.64 31.48L205.36 31.79M205.64 33.96L205.64 38.3M207.92 31.79L207.92 38.3M210.48 31.79L210.48 37.06L210.76 37.99L211.33 38.3L211.9 38.3M209.62 33.96L211.61 33.96M213.32 35.82L216.73 35.82L216.73 35.2L216.44 34.58L216.16 34.27L215.59 33.96L214.74 33.96L214.17 34.27L213.6 34.89L213.32 35.82L213.32 36.44L213.6 37.37L214.17 37.99L214.74 38.3L215.59 38.3L216.16 37.99L216.73 37.37M218.72 33.96L218.72 38.3M218.72 35.82L219 34.89L219.57 34.27L220.14 33.96L220.99 33.96M228.95 31.17L228.38 31.75L227.81 32.62L227.24 33.79L226.96 35.24L226.96 36.4L227.24 37.85L227.81 39.02L228.38 39.89L228.95 40.47M230.65 33.96L231.79 38.3M232.93 33.96L231.79 38.3M232.93 33.96L234.06 38.3M235.2 33.96L234.06 38.3M236.91 31.79L237.19 32.1L237.48 31.79L237.19 31.48L236.91 31.79M237.19 33.96L237.19 38.3M239.75 31.79L239.75 37.06L240.03 37.99L240.6 38.3L241.17 38.3M238.9 33.96L240.89 33.96M242.88 31.79L242.88 38.3M242.88 35.2L243.73 34.27L244.3 33.96L245.15 33.96L245.72 34.27L246 35.2L246 38.3M252.82 33.96L252.82 38.3M252.82 35.82L253.11 34.89L253.67 34.27L254.24 33.96L255.1 33.96M256.23 35.82L259.64 35.82L259.64 35.2L259.36 34.58L259.07 34.27L258.51 33.96L257.65 33.96L257.09 34.27L256.52 34.89L256.23 35.82L256.23 36.44L256.52 37.37L257.09 37.99L257.65 38.3L258.51 38.3L259.07 37.99L259.64 37.37M264.76 31.79L264.76 38.3M264.76 34.89L264.19 34.27L263.62 33.96L262.77 33.96L262.2 34.27L261.63 34.89L261.35 35.82L261.35 36.44L261.63 37.37L262.2 37.99L262.77 38.3L263.62 38.3L264.19 37.99L264.76 37.37M269.87 34.89L269.59 34.27L268.74 33.96L267.88 33.96L267.03 34.27L266.75 34.89L267.03 35.51L267.6 35.82L269.02 36.13L269.59 36.44L269.87 37.06L269.87 37.37L269.59 37.99L268.74 38.3L267.88 38.3L267.03 37.99L266.75 37.37M271.86 31.79L271.86 38.3M271.86 35.2L272.72 34.27L273.28 33.96L274.14 33.96L274.71 34.27L274.99 35.2L274.99 38.3M276.98 31.79L277.26 32.1L277.55 31.79L277.26 31.48L276.98 31.79M277.26 33.96L277.26 38.3M281.24 31.79L280.67 31.79L280.11 32.1L279.82 33.03L279.82 38.3M278.97 33.96L280.96 33.96M283.23 31.79L283.23 37.06L283.52 37.99L284.08 38.3L284.65 38.3M282.38 33.96L284.37 33.96M290.62 35.82L294.03 35.82L294.03 35.2L293.75 34.58L293.46 34.27L292.89 33.96L292.04 33.96L291.47 34.27L290.9 34.89L290.62 35.82L290.62 36.44L290.9 37.37L291.47 37.99L292.04 38.3L292.89 38.3L293.46 37.99L294.03 37.37M296.02 33.96L296.02 38.3M296.02 35.82L296.3 34.89L296.87 34.27L297.44 33.96L298.29 33.96M299.72 33.96L299.72 38.3M299.72 35.82L300 34.89L300.57 34.27L301.14 33.96L301.99 33.96M304.55 33.96L303.98 34.27L303.41 34.89L303.13 35.82L303.13 36.44L303.41 37.37L303.98 37.99L304.55 38.3L305.4 38.3L305.97 37.99L306.54 37.37L306.82 36.44L306.82 35.82L306.54 34.89L305.97 34.27L305.4 33.96L304.55 33.96M308.81 33.96L308.81 38.3M308.81 35.82L309.09 34.89L309.66 34.27L310.23 33.96L311.08 33.96M315.35 34.89L315.06 34.27L314.21 33.96L313.36 33.96L312.5 34.27L312.22 34.89L312.5 35.51L313.07 35.82L314.49 36.13L315.06 36.44L315.35 37.06L315.35 37.37L315.06 37.99L314.21 38.3L313.36 38.3L312.5 37.99L312.22 37.37M321.6 31.79L321.88 32.1L322.17 31.79L321.88 31.48L321.6 31.79M321.88 33.96L321.88 38.3M324.16 33.96L324.16 38.3M324.16 35.2L325.01 34.27L325.58 33.96L326.43 33.96L327 34.27L327.28 35.2L327.28 38.3M334.39 31.79L334.39 37.06L334.67 37.99L335.24 38.3L335.81 38.3M333.53 33.96L335.52 33.96M337.51 31.79L337.51 38.3M337.51 35.2L338.37 34.27L338.93 33.96L339.79 33.96L340.36 34.27L340.64 35.2L340.64 38.3M342.63 35.82L346.04 35.82L346.04 35.2L345.76 34.58L345.47 34.27L344.9 33.96L344.05 33.96L343.48 34.27L342.91 34.89L342.63 35.82L342.63 36.44L342.91 37.37L343.48 37.99L344.05 38.3L344.9 38.3L345.47 37.99L346.04 37.37M355.7 31.79L355.7 38.3M355.7 34.89L355.13 34.27L354.57 33.96L353.71 33.96L353.14 34.27L352.58 34.89L352.29 35.82L352.29 36.44L352.58 37.37L353.14 37.99L353.71 38.3L354.57 38.3L355.13 37.99L355.7 37.37M361.1 33.96L361.1 38.3M361.1 34.89L360.53 34.27L359.97 33.96L359.11 33.96L358.54 34.27L357.98 34.89L357.69 35.82L357.69 36.44L357.98 37.37L358.54 37.99L359.11 38.3L359.97 38.3L360.53 37.99L361.1 37.37M363.66 31.79L363.66 37.06L363.94 37.99L364.51 38.3L365.08 38.3M362.81 33.96L364.8 33.96M369.91 33.96L369.91 38.3M369.91 34.89L369.34 34.27L368.78 33.96L367.92 33.96L367.35 34.27L366.79 34.89L366.5 35.82L366.5 36.44L366.79 37.37L367.35 37.99L367.92 38.3L368.78 38.3L369.34 37.99L369.91 37.37M371.9 31.17L372.47 31.75L373.04 32.62L373.61 33.79L373.89 35.24L373.89 36.4L373.61 37.85L373.04 39.02L372.47 39.89L371.9 40.47" fill="none" stroke="#000" stroke-width="1.08" stroke-linecap="round" stroke-linejoin="round"><title>3D-Matched-Filter (with redshift errors in the data)</title></path>
<path d="M131.28 56.1L186.72 87.7L219.14 107.5L242.15 123.1L260 134.8L274.58 147.9L286.91 164L297.58 171L307 176.6L315.43 181.5L323.05 193.2L330.01 203L336.41 205.4L342.34 207.4L347.86 217.7L353.02 224.9L357.87 229.5L362.44 239.7L366.76 246.7L374.77 255.7L382.04 268.4L388.71 290.2" fill="none" stroke="#000" stroke-width="0.9" stroke-linejoin="round"/>
<path d="M128.38 56.1h5.8M131.28 53v6.2M128.38 53l5.8 6.2M128.38 59.2l5.8 -6.2M183.82 87.7h5.8M186.72 84.6v6.2M183.82 84.6l5.8 6.2M183.82 90.8l5.8 -6.2M216.24 107.5h5.8M219.14 104.4v6.2M216.24 104.4l5.8 6.2M216.24 110.6l5.8 -6.2M239.25 123.1h5.8M242.15 120v6.2M239.25 120l5.8 6.2M239.25 126.2l5.8 -6.2M257.1 134.8h5.8M260 131.7v6.2M257.1 131.7l5.8 6.2M257.1 137.9l5.8 -6.2M271.68 147.9h5.8M274.58 144.8v6.2M271.68 144.8l5.8 6.2M271.68 151l5.8 -6.2M284.01 164h5.8M286.91 160.9v6.2M284.01 160.9l5.8 6.2M284.01 167.1l5.8 -6.2M294.68 171h5.8M297.58 167.9v6.2M294.68 167.9l5.8 6.2M294.68 174.1l5.8 -6.2M304.1 176.6h5.8M307 173.5v6.2M304.1 173.5l5.8 6.2M304.1 179.7l5.8 -6.2M312.53 181.5h5.8M315.43 178.4v6.2M312.53 178.4l5.8 6.2M312.53 184.6l5.8 -6.2M320.15 193.2h5.8M323.05 190.1v6.2M320.15 190.1l5.8 6.2M320.15 196.3l5.8 -6.2M327.11 203h5.8M330.01 199.9v6.2M327.11 199.9l5.8 6.2M327.11 206.1l5.8 -6.2M333.51 205.4h5.8M336.41 202.3v6.2M333.51 202.3l5.8 6.2M333.51 208.5l5.8 -6.2M339.44 207.4h5.8M342.34 204.3v6.2M339.44 204.3l5.8 6.2M339.44 210.5l5.8 -6.2M344.96 217.7h5.8M347.86 214.6v6.2M344.96 214.6l5.8 6.2M344.96 220.8l5.8 -6.2M350.12 224.9h5.8M353.02 221.8v6.2M350.12 221.8l5.8 6.2M350.12 228l5.8 -6.2M354.97 229.5h5.8M357.87 226.4v6.2M354.97 226.4l5.8 6.2M354.97 232.6l5.8 -6.2M359.54 239.7h5.8M362.44 236.6v6.2M359.54 236.6l5.8 6.2M359.54 242.8l5.8 -6.2M363.86 246.7h5.8M366.76 243.6v6.2M363.86 243.6l5.8 6.2M363.86 249.8l5.8 -6.2M371.87 255.7h5.8M374.77 252.6v6.2M371.87 252.6l5.8 6.2M371.87 258.8l5.8 -6.2M379.14 268.4h5.8M382.04 265.3v6.2M379.14 265.3l5.8 6.2M379.14 271.5l5.8 -6.2M385.81 290.2h5.8M388.71 287.1v6.2M385.81 287.1l5.8 6.2M385.81 293.3l5.8 -6.2" fill="none" stroke="#000" stroke-width="0.9"/>
<path d="M131.28 69.4L186.72 93.2L219.14 110.3L242.15 124.6L260 135.6L274.58 148.6L286.91 164.6L297.58 171.5L307 177L315.43 181.8L323.05 193.2L330.01 203L336.41 205.4L342.34 207.4L347.86 217.7L353.02 224.9L357.87 229.5L362.44 239.7L366.76 246.7L374.77 255.7L382.04 268.4L388.71 290.2" fill="none" stroke="#f00" stroke-width="0.95" stroke-dasharray="6.2 6.2"/>
<path d="M128.38 69.4h5.8M131.28 66.3v6.2M183.82 93.2h5.8M186.72 90.1v6.2M216.24 110.3h5.8M219.14 107.2v6.2M239.25 124.6h5.8M242.15 121.5v6.2M257.1 135.6h5.8M260 132.5v6.2M271.68 148.6h5.8M274.58 145.5v6.2M284.01 164.6h5.8M286.91 161.5v6.2M294.68 171.5h5.8M297.58 168.4v6.2M304.1 177h5.8M307 173.9v6.2M312.53 181.8h5.8M315.43 178.7v6.2M320.15 193.2h5.8M323.05 190.1v6.2M327.11 203h5.8M330.01 199.9v6.2M333.51 205.4h5.8M336.41 202.3v6.2M339.44 207.4h5.8M342.34 204.3v6.2M344.96 217.7h5.8M347.86 214.6v6.2M350.12 224.9h5.8M353.02 221.8v6.2M354.97 229.5h5.8M357.87 226.4v6.2M359.54 239.7h5.8M362.44 236.6v6.2M363.86 246.7h5.8M366.76 243.6v6.2M371.87 255.7h5.8M374.77 252.6v6.2M379.14 268.4h5.8M382.04 265.3v6.2M385.81 290.2h5.8M388.71 287.1v6.2" fill="none" stroke="#f00" stroke-width="0.9"/>
<path d="M131.28 76.7L186.72 98.7L219.14 114L242.15 126.8L260 137.6L274.58 150.3L286.91 165.6L297.58 172.5L307 178L315.43 182.3L323.05 193.2L330.01 203L336.41 205.4L342.34 207.4L347.86 217.7L353.02 224.9L357.87 229.5L362.44 239.7L366.76 246.7L374.77 255.7L382.04 268.4L388.71 290.2" fill="none" stroke="#00f" stroke-width="1.0" stroke-dasharray="1.1 3.0"/>
<path d="M128.38 76.7h5.8M131.28 73.6v6.2M183.82 98.7h5.8M186.72 95.6v6.2M216.24 114h5.8M219.14 110.9v6.2M239.25 126.8h5.8M242.15 123.7v6.2M257.1 137.6h5.8M260 134.5v6.2M271.68 150.3h5.8M274.58 147.2v6.2M284.01 165.6h5.8M286.91 162.5v6.2M294.68 172.5h5.8M297.58 169.4v6.2M304.1 178h5.8M307 174.9v6.2M312.53 182.3h5.8M315.43 179.2v6.2M320.15 193.2h5.8M323.05 190.1v6.2M327.11 203h5.8M330.01 199.9v6.2M333.51 205.4h5.8M336.41 202.3v6.2M339.44 207.4h5.8M342.34 204.3v6.2M344.96 217.7h5.8M347.86 214.6v6.2M350.12 224.9h5.8M353.02 221.8v6.2M354.97 229.5h5.8M357.87 226.4v6.2M359.54 239.7h5.8M362.44 236.6v6.2M363.86 246.7h5.8M366.76 243.6v6.2M371.87 255.7h5.8M374.77 252.6v6.2M379.14 268.4h5.8M382.04 265.3v6.2M385.81 290.2h5.8M388.71 287.1v6.2" fill="none" stroke="#00f" stroke-width="0.9"/>
</svg></body></html>
